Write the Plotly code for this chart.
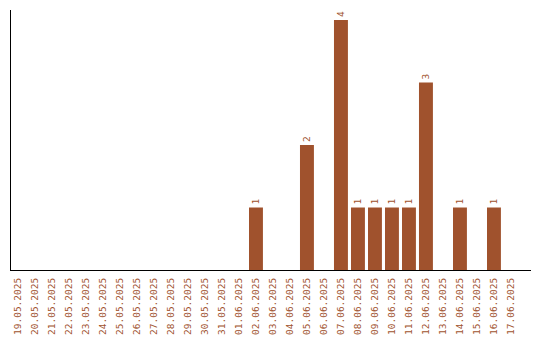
import plotly.graph_objects as go

dates = ["19.05.2025","20.05.2025","21.05.2025","22.05.2025","23.05.2025","24.05.2025",
         "25.05.2025","26.05.2025","27.05.2025","28.05.2025","29.05.2025","30.05.2025",
         "31.05.2025","01.06.2025","02.06.2025","03.06.2025","04.06.2025","05.06.2025",
         "06.06.2025","07.06.2025","08.06.2025","09.06.2025","10.06.2025","11.06.2025",
         "12.06.2025","13.06.2025","14.06.2025","15.06.2025","16.06.2025","17.06.2025"]
counts = [0,0,0,0,0,0,0,0,0,0,0,0,0,0,1,0,0,2,0,4,1,1,1,1,3,0,1,0,1,0]

color = "#A0522D"
labels = [str(v) if v > 0 else "" for v in counts]
font_family = "DejaVu Sans Mono"

fig = go.Figure(go.Bar(
    x=dates, y=counts, marker_color=color, marker_line_width=0,
    text=labels, textposition="outside", textangle=-90,
    textfont=dict(family=font_family, size=9.5, color=color),
    cliponaxis=False,
))
fig.update_layout(
    width=540, height=340, margin=dict(l=11, r=9, t=10, b=70),
    paper_bgcolor="white", plot_bgcolor="white", bargap=0.18,
    showlegend=False,
    xaxis=dict(type="category", range=[-0.41, 30.18], tickangle=-90,
               automargin=False,
               tickfont=dict(family=font_family, size=9.5, color=color),
               showgrid=False, showline=True, linecolor="black", linewidth=1,
               ticks="outside", ticklen=3, tickcolor="rgba(0,0,0,0)"),
    yaxis=dict(range=[0, 4.16], showticklabels=False, showgrid=False,
               automargin=False,
               zeroline=False, showline=True, linecolor="black", linewidth=1,
               ticks=""),
)
fig.write_html("out.html")
